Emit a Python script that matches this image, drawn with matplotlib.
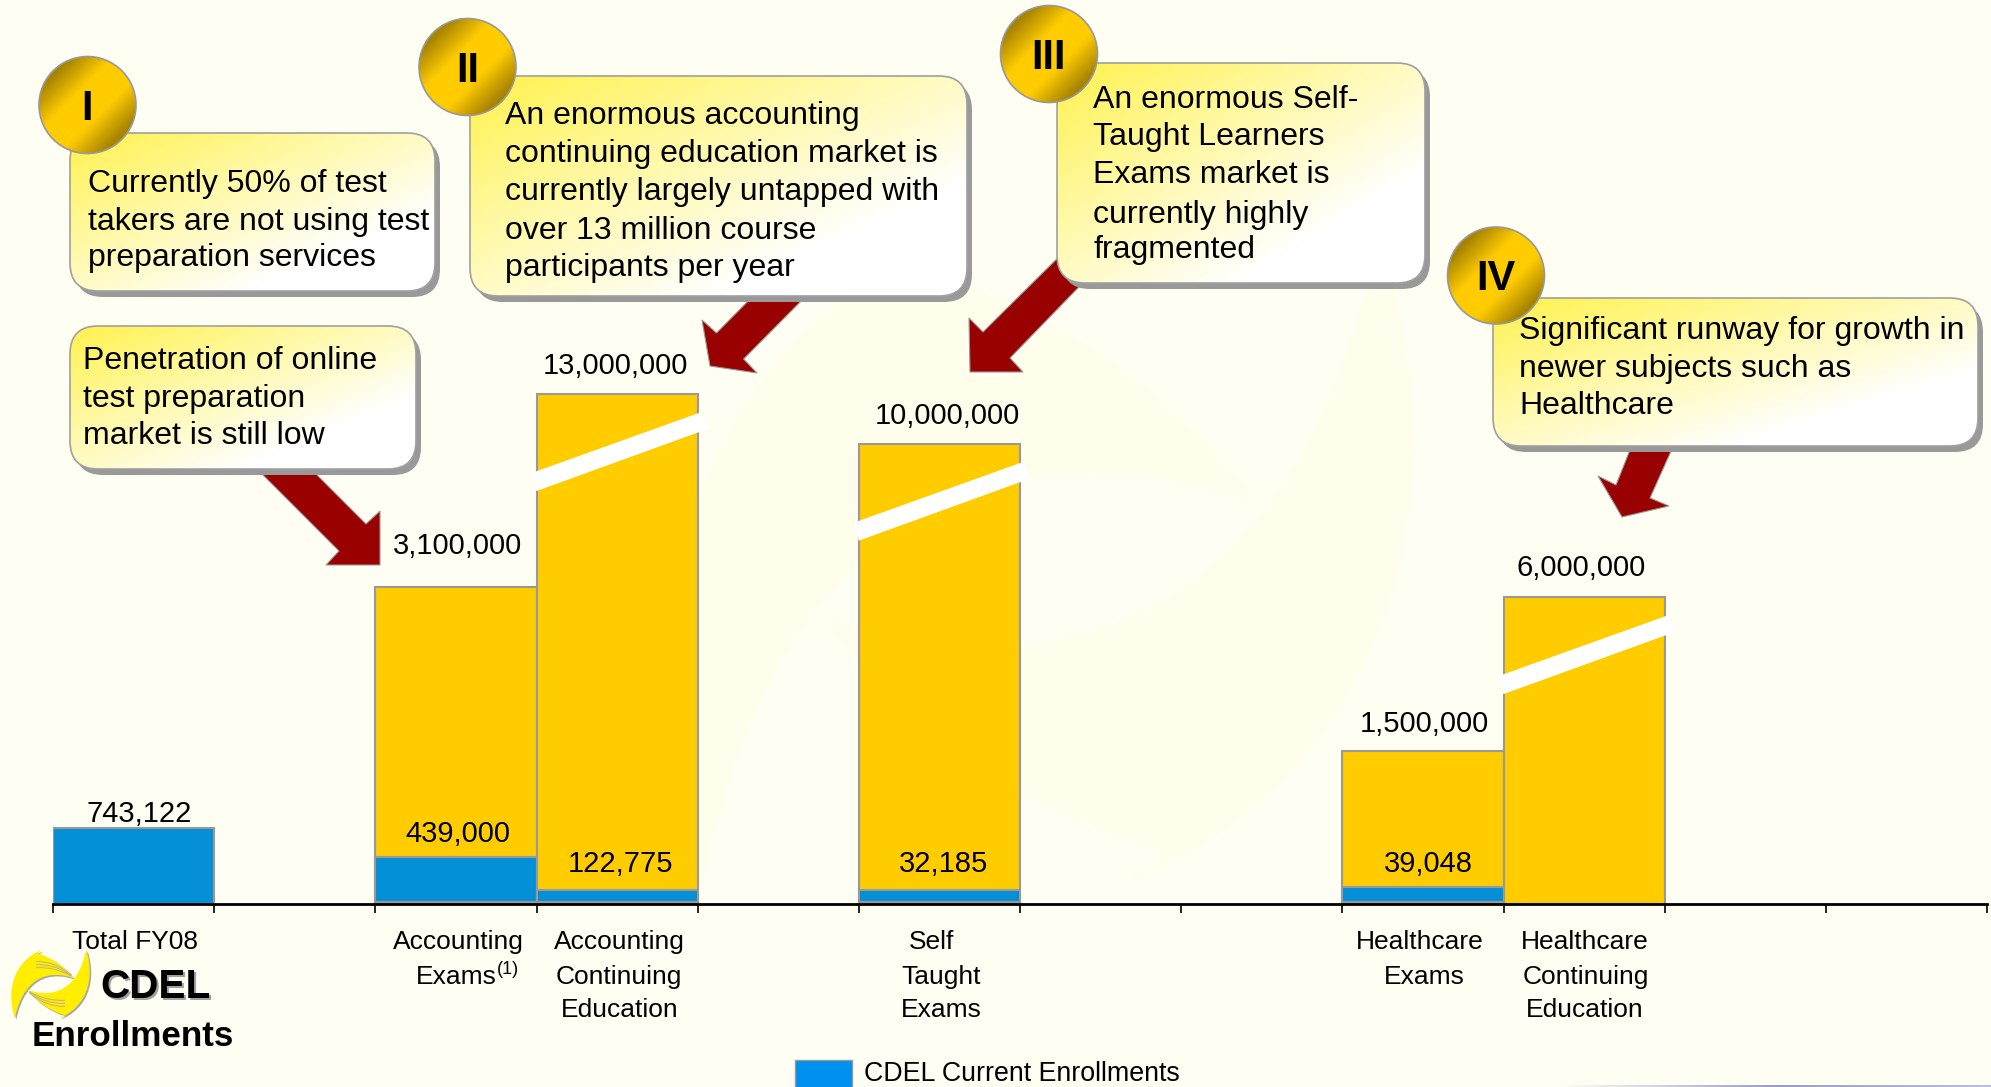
#!/usr/bin/env python3
import numpy as np
import matplotlib
matplotlib.use('Agg')
import matplotlib.pyplot as plt
from matplotlib.colors import LinearSegmentedColormap
from matplotlib.patches import FancyBboxPatch, Circle, Polygon, Rectangle, PathPatch
from matplotlib.path import Path
from matplotlib.transforms import Affine2D

plt.rcParams['font.family'] = ['Liberation Sans', 'DejaVu Sans']

W, H = 1991, 1087
BG = '#FFFEF3'

# slot on the x axis where each bar starts
slots = [0, 2, 3, 5, 8, 9]
slot_count = 12

market_labels = ['', '3,100,000', '13,000,000', '10,000,000', '1,500,000', '6,000,000']
current_labels = ['743,122', '439,000', '122,775', '32,185', '39,048', '']

# bar heights as drawn, the tall bars are cut by the white break so they
# are not to scale with their label
market_drawn = [0, 3100000, 4985000, 4500000, 1500000, 3000000]
current_drawn = [743122, 439000, 117000, 117000, 146000, 0]
current_base = [0, 20000, 20000, 20000, 20000, 0]
broken = [False, False, True, True, False, True]

px_per_unit = 102.3e-6

fig = plt.figure(figsize=(W / 100, H / 100), dpi=100, facecolor=BG)


def px_axes(zorder):
    a = fig.add_axes([0, 0, 1, 1], zorder=zorder)
    a.set_xlim(0, W)
    a.set_ylim(H, 0)
    a.set_autoscale_on(False)
    a.axis('off')
    return a


def blade_path():
    # one blade of the logo swirl, in logo pixels around its centre
    pts = [(45, 265), (15, 170), (50, 90), (125, 60), (113, 70), (180, 90),
           (222, 145), (170, 125), (75, 120), (45, 265), (45, 265)]
    codes = [Path.MOVETO, Path.CURVE4, Path.CURVE4, Path.CURVE4, Path.LINETO,
             Path.CURVE3, Path.CURVE3, Path.CURVE4, Path.CURVE4, Path.CURVE4,
             Path.CLOSEPOLY]
    pts = (np.array(pts, dtype=float) - (152, 162)) / 3.0
    return Path(pts, codes)


def swirl(a, cx, cy, scale, color, shadow=None, stripes=None, z=2):
    blade = blade_path()
    for rot in [0, 180]:
        tr = Affine2D().rotate_deg(rot).scale(scale).translate(cx, cy) + a.transData
        if shadow:
            tr2 = Affine2D().rotate_deg(rot).scale(scale).translate(cx + 1.5, cy + 1.5) + a.transData
            a.add_patch(PathPatch(blade, fc=shadow, ec='none', transform=tr2, zorder=z))
        a.add_patch(PathPatch(blade, fc=color, ec='none', transform=tr, zorder=z + 0.1))
        if stripes:
            for dy in [0, 9, 18]:
                p0 = (np.array([108, 95 + dy]) - (152, 162)) / 3.0
                p1 = (np.array([165, 92 + dy]) - (152, 162)) / 3.0
                p2 = (np.array([215, 135 + dy * 0.2]) - (152, 162)) / 3.0
                line = Path([p0, p1, p2], [Path.MOVETO, Path.CURVE3, Path.CURVE3])
                a.add_patch(PathPatch(line, fc='none', ec=stripes, lw=0.8,
                                      transform=tr, zorder=z + 0.2))


# faint watermark behind the chart
back = px_axes(0)
swirl(back, 1040, 560, 9.5, '#FFFEEC')

# bars
ax = fig.add_axes([53 / W, 1 - 904 / H, (1987 - 53) / W, 904 / H], zorder=1)
ax.patch.set_alpha(0)
ax.set_xlim(0, slot_count)
ax.set_ylim(0, 904 / px_per_unit)
for s, m, c, b in zip(slots, market_drawn, current_drawn, current_base):
    if m:
        ax.bar(s, m, width=1, align='edge', color='#FFCC00', edgecolor='#999999', linewidth=1.5)
    if c:
        ax.bar(s, c, bottom=b, width=1, align='edge', color='#058FD6', edgecolor='#999999', linewidth=1.5)
for side in ['top', 'left', 'right']:
    ax.spines[side].set_visible(False)
ax.spines['bottom'].set_linewidth(2)
ax.set_yticks([])
ax.set_xticks(range(slot_count + 1))
ax.set_xticklabels([])
ax.tick_params(axis='x', length=6.5, width=1.2, color='black')

top = px_axes(2)


def bar_top(i):
    return 904 - market_drawn[i] * px_per_unit


# white breaks on the cut bars
for i, s in enumerate(slots):
    if broken[i]:
        x0 = 53 + s * (1987 - 53) / slot_count
        y0 = bar_top(i)
        top.add_patch(Polygon([(x0 - 5, y0 + 79), (x0 + 165, y0 + 18), (x0 + 171, y0 + 35), (x0 + 0, y0 + 97)],
                              closed=True, fc='white', ec='none', zorder=1))

# arrows
arrows = [
    [(240, 452), (294, 452), (366, 524), (380, 511), (380, 565), (326, 565), (339, 551)],
    [(770, 279), (823, 279), (743.6, 359), (757, 373), (710, 366), (702, 320), (716.5, 333)],
    [(1083, 233), (1107, 258), (1010, 358), (1023, 372), (970, 372), (969, 318), (983, 332)],
    [(1634, 440), (1676, 440), (1650, 498), (1669, 506), (1622, 517), (1598, 476), (1616, 485)],
]
for pts in arrows:
    top.add_patch(Polygon(pts, closed=True, fc='#990000', ec='#999999', lw=0.8, zorder=2))

box_cmap = LinearSegmentedColormap.from_list('box', ['#FFF24D', '#FFF9A8', '#FFFFFF'])
ball_cmap = LinearSegmentedColormap.from_list('ball', ['#A88400', '#FFCC00', '#FFCC00', '#A88400'])

boxes = [
    (70, 133, 435, 291),
    (70, 326, 416, 469),
    (470, 76, 967, 296),
    (1057, 63, 1425, 283),
    (1493, 298, 1978, 446),
]
box_lines = [
    ['Currently 50% of test', 'takers are not using test', 'preparation services'],
    ['Penetration of online', 'test preparation', 'market is still low'],
    ['An enormous accounting', 'continuing education market is', 'currently largely untapped with',
     'over 13 million course', 'participants per year'],
    ['An enormous Self-', 'Taught Learners', 'Exams market is', 'currently highly', 'fragmented'],
    ['Significant runway for growth in', 'newer subjects such as', 'Healthcare'],
]
box_text_x = [88, 83, 505, 1093, 1519]
box_baselines = [
    [192, 230, 266],
    [369, 407, 444],
    [124, 162, 200, 239, 276],
    [108, 145, 183, 223, 258],
    [339, 377, 414],
]

for (x0, y0, x1, y1), lines, tx, bases in zip(boxes, box_lines, box_text_x, box_baselines):
    w, h = x1 - x0, y1 - y0
    style = 'round,pad=0,rounding_size=28'
    top.add_patch(FancyBboxPatch((x0 + 5, y0 + 6), w, h, boxstyle=style, fc='#999999', ec='none', zorder=3))
    patch = FancyBboxPatch((x0, y0), w, h, boxstyle=style, fc='none', ec='#A0A0A0', lw=1.2, zorder=3.2)
    top.add_patch(patch)
    xx, yy = np.meshgrid(np.linspace(0, 1, 120), np.linspace(0, 1, 80))
    t = np.clip((xx + yy) / 1.5, 0, 1)
    im = top.imshow(t, extent=(x0, x1, y1, y0), aspect='auto', cmap=box_cmap, vmin=0, vmax=1, zorder=3.1)
    im.set_clip_path(patch)
    for line, b in zip(lines, bases):
        top.text(tx, b, line, fontsize=23.05, ha='left', va='baseline', color='black', zorder=6)

# roman numeral balls
balls = [(87.5, 105, 'I'), (467.5, 67, 'II'), (1049, 54, 'III'), (1496, 275.5, 'IV')]
for cx, cy, num in balls:
    r = 48.5
    c = Circle((cx, cy), r, fc='none', ec='#999999', lw=1.2, zorder=5.2)
    top.add_patch(c)
    xx, yy = np.meshgrid(np.linspace(0, 1, 100), np.linspace(0, 1, 100))
    im = top.imshow((xx + yy) / 2, extent=(cx - r, cx + r, cy + r, cy - r), aspect='auto',
                    cmap=ball_cmap, vmin=0.17, vmax=0.83, zorder=5.1)
    im.set_clip_path(c)
    top.text(cx, cy + 15, num, fontsize=30, fontweight='bold', ha='center', va='baseline', zorder=6)

# value labels
market_pos = [None, (457, 554), (615, 374), (947, 424), (1424, 731.5), (1581, 576)]
current_pos = [(139, 822), (458, 842), (620, 872), (943, 872), (1428, 872), None]
for lab, p in zip(market_labels + current_labels, market_pos + current_pos):
    if p:
        top.text(p[0], p[1], lab, fontsize=21, ha='center', va='baseline', zorder=6)

# category labels
cat_text = [
    ('Total FY08', 135, 949), ('Accounting', 458, 949), ('Exams', 456.5, 984),
    ('Accounting', 619, 949), ('Continuing', 619, 984), ('Education', 620, 1017),
    ('Self', 932, 949), ('Taught', 941, 984), ('Exams', 941, 1017),
    ('Healthcare', 1420, 949), ('Exams', 1424, 984),
    ('Healthcare', 1585, 949), ('Continuing', 1586, 984), ('Education', 1585, 1017),
]
for s, x, y in cat_text:
    top.text(x, y, s, fontsize=19, ha='center', va='baseline', zorder=6)
top.text(497, 974, '(1)', fontsize=13, ha='left', va='baseline', zorder=6)

# logo
swirl(top, 50.5, 984, 1.0, '#FFEE00', shadow='#A8A8A8', stripes='#C8B878')
top.text(102, 1000, 'CDEL', fontsize=29.2, fontweight='bold', color='#A0A0A0', va='baseline', zorder=5)
top.text(100, 998, 'CDEL', fontsize=29.2, fontweight='bold', color='black', va='baseline', zorder=6)
top.text(132.5, 1046.5, 'Enrollments', fontsize=25.2, fontweight='bold', ha='center', va='baseline', zorder=6)

# legend
top.add_patch(Rectangle((795, 1060), 57, 40, fc='#0090F0', ec='#999999', lw=1, zorder=5))
top.text(864, 1081, 'CDEL Current Enrollments', fontsize=19.3, ha='left', va='baseline', zorder=6)

# faint strip along the bottom right edge
strip_cmap = LinearSegmentedColormap.from_list('strip', [BG, '#9C9CC4', '#B8C0DC'])
top.imshow(np.linspace(0, 1, 200).reshape(1, -1), extent=(1560, W, H, H - 2), aspect='auto',
           cmap=strip_cmap, zorder=1)

fig.savefig('out.png', dpi=100, facecolor=BG)
